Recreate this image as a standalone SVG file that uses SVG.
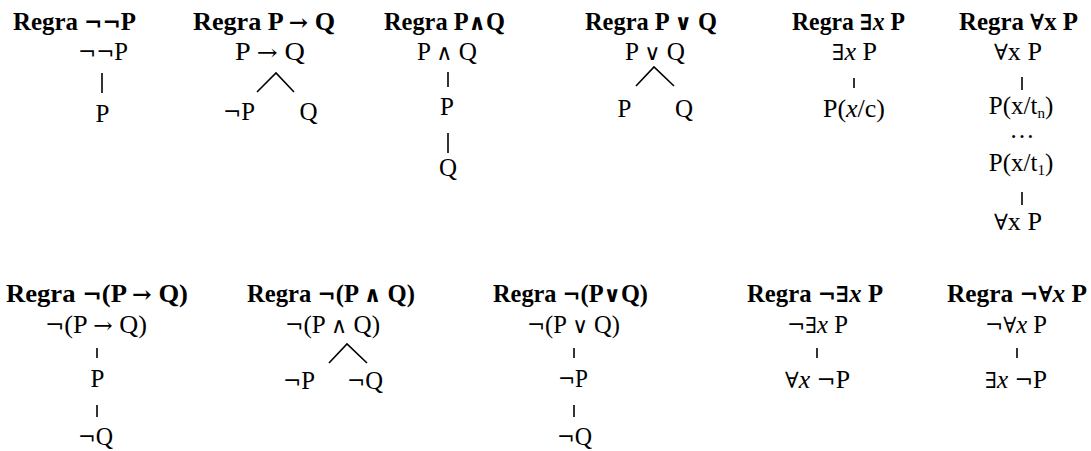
<svg xmlns="http://www.w3.org/2000/svg" width="1091" height="451" viewBox="0 0 1091 451">
<style>
text{font-family:"Liberation Serif","DejaVu Serif",serif;font-size:25px;fill:#000;text-anchor:middle}
.t{font-weight:bold}
.i{font-style:italic}
.y{font-family:"DejaVu Serif",serif;font-size:22px}
.c line,.c polyline{stroke:#000;stroke-width:1.6;fill:none}
.s{font-size:15px}
</style>
<rect width="1091" height="451" fill="#fff"/>
<g id="r1">
<text class="t" x="74.5" y="30" textLength="123" lengthAdjust="spacingAndGlyphs">Regra <tspan class="y">¬¬</tspan>P</text>
<text x="103" y="60" textLength="50" lengthAdjust="spacingAndGlyphs"><tspan class="y">¬¬</tspan>P</text>
<text x="102.5" y="122">P</text>
</g>
<g id="r2">
<text class="t" x="264" y="30" textLength="142" lengthAdjust="spacingAndGlyphs">Regra P <tspan class="y">→</tspan> Q</text>
<text x="270" y="60" textLength="70" lengthAdjust="spacingAndGlyphs">P <tspan class="y">→</tspan> Q</text>
<text x="239" y="120" textLength="32" lengthAdjust="spacingAndGlyphs"><tspan class="y">¬</tspan>P</text>
<text x="308.5" y="120">Q</text>
</g>
<g id="r3">
<text class="t" x="444.5" y="30" textLength="121" lengthAdjust="spacingAndGlyphs">Regra P<tspan class="y">∧</tspan>Q</text>
<text x="447" y="60" textLength="60" lengthAdjust="spacingAndGlyphs">P <tspan class="y">∧</tspan> Q</text>
<text x="447" y="115">P</text>
<text x="448" y="176">Q</text>
</g>
<g id="r4">
<text class="t" x="651" y="30" textLength="132" lengthAdjust="spacingAndGlyphs">Regra P <tspan class="y">∨</tspan> Q</text>
<text x="655" y="60" textLength="60" lengthAdjust="spacingAndGlyphs">P <tspan class="y">∨</tspan> Q</text>
<text x="624.5" y="117">P</text>
<text x="684" y="117">Q</text>
</g>
<g id="r5">
<text class="t" x="848.5" y="30" textLength="113" lengthAdjust="spacingAndGlyphs">Regra <tspan class="y">∃</tspan><tspan class="i">x</tspan> P</text>
<text x="854.5" y="60" textLength="45" lengthAdjust="spacingAndGlyphs"><tspan class="y">∃</tspan><tspan class="i">x</tspan> P</text>
<text x="854" y="117" textLength="62" lengthAdjust="spacingAndGlyphs">P(<tspan class="i">x</tspan>/c)</text>
</g>
<g id="r6">
<text class="t" x="1018.5" y="30" textLength="119" lengthAdjust="spacingAndGlyphs">Regra <tspan class="y">∀</tspan>x P</text>
<text x="1018" y="60" textLength="48" lengthAdjust="spacingAndGlyphs"><tspan class="y">∀</tspan>x P</text>
<text x="1021" y="114">P(x/t<tspan class="s" dy="4">n</tspan><tspan dy="-4">)</tspan></text>
<text x="1022" y="138">…</text>
<text x="1021" y="171">P(x/t<tspan class="s" dy="4">1</tspan><tspan dy="-4">)</tspan></text>
<text x="1018" y="230" textLength="48" lengthAdjust="spacingAndGlyphs"><tspan class="y">∀</tspan>x P</text>
</g>
<g id="r7">
<text class="t" x="97" y="302" textLength="182" lengthAdjust="spacingAndGlyphs">Regra <tspan class="y">¬</tspan>(P <tspan class="y">→</tspan> Q)</text>
<text x="96" y="333" textLength="102" lengthAdjust="spacingAndGlyphs"><tspan class="y">¬</tspan>(P <tspan class="y">→</tspan> Q)</text>
<text x="97.5" y="387">P</text>
<text x="95.5" y="445" textLength="35" lengthAdjust="spacingAndGlyphs"><tspan class="y">¬</tspan>Q</text>
</g>
<g id="r8">
<text class="t" x="331" y="302" textLength="168" lengthAdjust="spacingAndGlyphs">Regra <tspan class="y">¬</tspan>(P <tspan class="y">∧</tspan> Q)</text>
<text x="332.5" y="333" textLength="95" lengthAdjust="spacingAndGlyphs"><tspan class="y">¬</tspan>(P <tspan class="y">∧</tspan> Q)</text>
<text x="299" y="389" textLength="32" lengthAdjust="spacingAndGlyphs"><tspan class="y">¬</tspan>P</text>
<text x="365" y="389" textLength="36" lengthAdjust="spacingAndGlyphs"><tspan class="y">¬</tspan>Q</text>
</g>
<g id="r9">
<text class="t" x="570.5" y="302" textLength="155" lengthAdjust="spacingAndGlyphs">Regra <tspan class="y">¬</tspan>(P<tspan class="y">∨</tspan>Q)</text>
<text x="573.5" y="333" textLength="93" lengthAdjust="spacingAndGlyphs"><tspan class="y">¬</tspan>(P <tspan class="y">∨</tspan> Q)</text>
<text x="573" y="387" textLength="30" lengthAdjust="spacingAndGlyphs"><tspan class="y">¬</tspan>P</text>
<text x="574.5" y="445" textLength="35" lengthAdjust="spacingAndGlyphs"><tspan class="y">¬</tspan>Q</text>
</g>
<g id="r10">
<text class="t" x="815" y="302" textLength="136" lengthAdjust="spacingAndGlyphs">Regra <tspan class="y">¬∃</tspan><tspan class="i">x</tspan> P</text>
<text x="817.5" y="333" textLength="61" lengthAdjust="spacingAndGlyphs"><tspan class="y">¬∃</tspan><tspan class="i">x</tspan> P</text>
<text x="817.5" y="388" textLength="65" lengthAdjust="spacingAndGlyphs"><tspan class="y">∀</tspan><tspan class="i">x</tspan> <tspan class="y">¬</tspan>P</text>
</g>
<g id="r11">
<text class="t" x="1017" y="302" textLength="140" lengthAdjust="spacingAndGlyphs">Regra <tspan class="y">¬∀</tspan><tspan class="i">x</tspan> P</text>
<text x="1016" y="333" textLength="62" lengthAdjust="spacingAndGlyphs"><tspan class="y">¬∀</tspan><tspan class="i">x</tspan> P</text>
<text x="1016" y="388" textLength="62" lengthAdjust="spacingAndGlyphs"><tspan class="y">∃</tspan><tspan class="i">x</tspan> <tspan class="y">¬</tspan>P</text>
</g>
<g id="connectors" class="c">
<line x1="102" y1="73" x2="102" y2="93"/>
<polyline points="257,92 276,73 294,92"/>
<line x1="448" y1="72" x2="448" y2="87"/>
<line x1="448" y1="133" x2="448" y2="153"/>
<polyline points="636,86 654,67 674,86"/>
<line x1="854" y1="78" x2="854" y2="88"/>
<line x1="1022" y1="77" x2="1022" y2="90"/>
<line x1="1022" y1="192" x2="1022" y2="205"/>
<line x1="97" y1="348" x2="97" y2="358"/>
<line x1="97" y1="405" x2="97" y2="417"/>
<polyline points="329,363 347,344 367,363"/>
<line x1="574" y1="348" x2="574" y2="358"/>
<line x1="574" y1="405" x2="574" y2="417"/>
<line x1="817" y1="348" x2="817" y2="358"/>
<line x1="1017" y1="348" x2="1017" y2="358"/>
</g>
</svg>
